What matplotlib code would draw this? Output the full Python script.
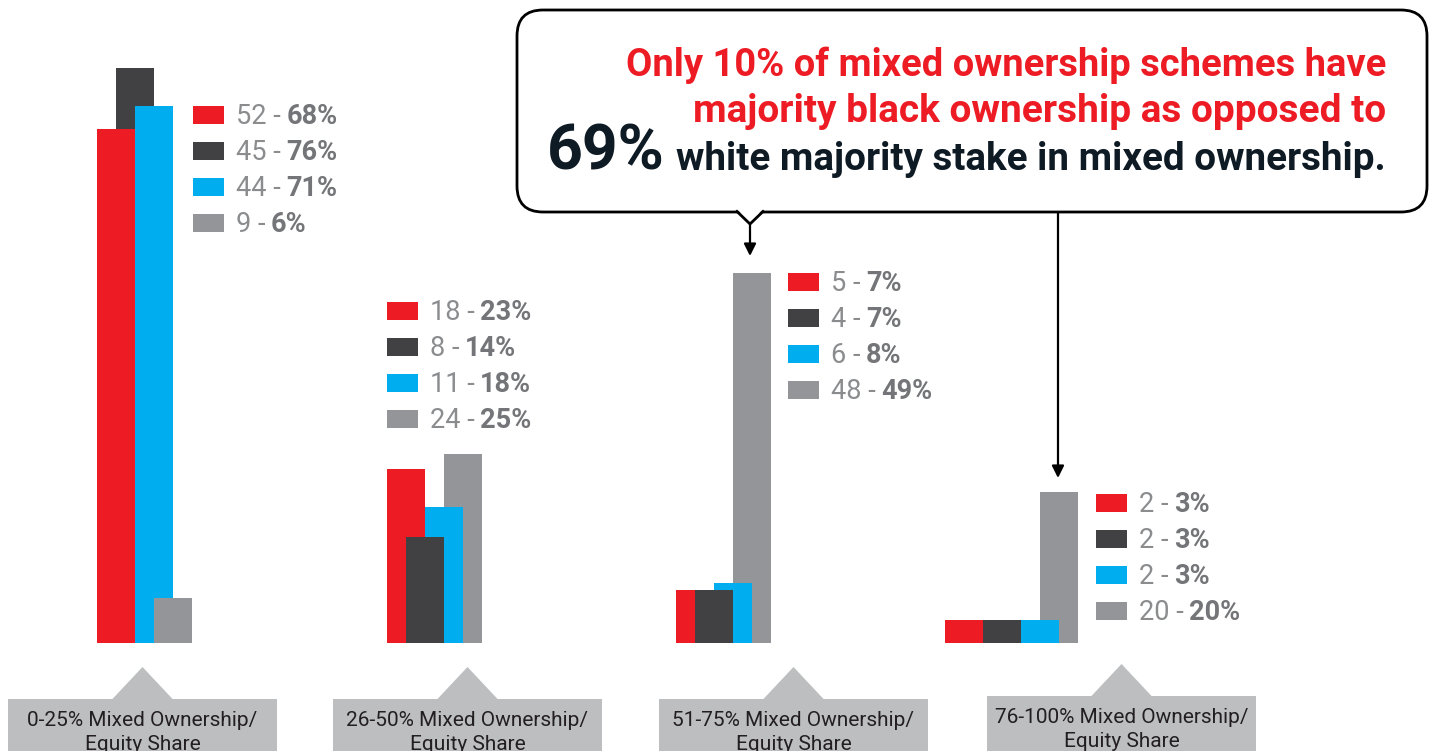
import matplotlib
matplotlib.use("Agg")
import matplotlib.pyplot as plt
from matplotlib import font_manager
from matplotlib.patches import FancyBboxPatch, Polygon, Rectangle

# ---------- DATA ----------
group_labels = ["0-25% Mixed Ownership/\nEquity Share",
                "26-50% Mixed Ownership/\nEquity Share",
                "51-75% Mixed Ownership/\nEquity Share",
                "76-100% Mixed Ownership/\nEquity Share"]
# per group: red, dark grey, blue, light grey
pct_0_25   = [68, 76, 71, 6]
pct_26_50  = [23, 14, 18, 25]
pct_51_75  = [7, 7, 8, 49]
pct_76_100 = [3, 3, 3, 20]
cnt_0_25   = [52, 45, 44, 9]
cnt_26_50  = [18, 8, 11, 24]
cnt_51_75  = [5, 4, 6, 48]
cnt_76_100 = [2, 2, 2, 20]
callout_red = ["Only 10% of mixed ownership schemes have",
               "majority black ownership as opposed to"]
callout_big = "69%"
callout_dark = "white majority stake in mixed ownership."

# ---------- STYLE / LAYOUT (pixels) ----------
W, H = 1432, 751
COLORS = ["#ED1C24", "#414042", "#00AEEF", "#939598"]
BAR_W = 38
BASE_Y = 643
PX_PER_PCT = 7.56
GROUP_X = [97, 387, 676, 945]
OFFSETS = [[0, .5, 1, 1.5], [0, .5, 1, 1.5], [0, .5, 1, 1.5], [0, 1, 2, 2.5]]
LEG_POS = [(193, 115), (387, 311), (788, 282), (1096, 503)]
LEG_STEP = 36
BOX_X = [8, 333, 659, 987]
BOX_TOP = [699, 699, 699, 696]
BOX_W = 269
BOX_COL = "#BCBEC0"
TXT_GREY = "#8a8c8e"
TXT_GREY_B = "#747578"

avail = {f.name for f in font_manager.fontManager.ttflist}
NARROW = "Liberation Sans Narrow" if "Liberation Sans Narrow" in avail else "Roboto"
plt.rcParams["font.family"] = ["Roboto", "DejaVu Sans"]

pcts = [pct_0_25, pct_26_50, pct_51_75, pct_76_100]
cnts = [cnt_0_25, cnt_26_50, cnt_51_75, cnt_76_100]

fig = plt.figure(figsize=(W / 100, H / 100), dpi=100)

# bar axes: y in percent, baseline at BASE_Y px
ymax = 80
ax = fig.add_axes([0, (H - BASE_Y) / H, 1, ymax * PX_PER_PCT / H])
ax.set_xlim(0, W)
ax.set_ylim(0, ymax)
ax.set_axis_off()
for g, vals in enumerate(pcts):
    for i, v in enumerate(vals):
        x = GROUP_X[g] + OFFSETS[g][i] * BAR_W
        # shorter bars sit in front
        ax.bar(x, v, width=BAR_W, align="edge", color=COLORS[i], zorder=100 - v)

# overlay in pixel coords
ov = fig.add_axes([0, 0, 1, 1])
ov.set_xlim(0, W)
ov.set_ylim(H, 0)
ov.set_axis_off()
ov.patch.set_alpha(0)

# legends
for g in range(4):
    lx, ly = LEG_POS[g]
    for i in range(4):
        y = ly + i * LEG_STEP
        ov.add_patch(Rectangle((lx, y - 9), 31, 18, color=COLORS[i], lw=0))
        t1 = ov.text(lx + 43, y + 9, f"{cnts[g][i]} -", fontsize=19.5,
                     color=TXT_GREY, ha="left", va="baseline")
        ov.annotate(f"{pcts[g][i]}%", xy=(1, 0), xycoords=t1, xytext=(4, 0),
                    textcoords="offset points", fontsize=19.5, fontweight="bold",
                    color=TXT_GREY_B, ha="left", va="bottom")

# bottom category boxes
for g in range(4):
    bx, bt = BOX_X[g], BOX_TOP[g]
    cx = bx + BOX_W / 2
    ov.add_patch(Rectangle((bx, bt), BOX_W, H - bt + 5, color=BOX_COL, lw=0))
    ov.add_patch(Polygon([(cx - 31, bt + 1), (cx, bt - 32), (cx + 31, bt + 1)],
                         closed=True, color=BOX_COL, lw=0))
    ov.text(cx, bt + 12, group_labels[g], fontsize=15, color="#231F20",
            ha="center", va="top", linespacing=1.32, multialignment="center")

# callout
ov.add_patch(FancyBboxPatch((517, 10), 910, 202,
                            boxstyle="round,pad=0,rounding_size=26",
                            fc="white", ec="black", lw=2, zorder=3))
ov.add_patch(Polygon([(737, 209), (763, 209), (750, 224)], closed=True,
                     fc="white", ec="none", zorder=4))
ov.plot([737, 750, 763], [211.5, 224, 211.5], color="black", lw=2, zorder=5)
ov.annotate("", xy=(750, 256), xytext=(750, 223),
            arrowprops=dict(arrowstyle="-|>", color="black", lw=1.6,
                            mutation_scale=18, shrinkA=0, shrinkB=0), zorder=5)
ov.annotate("", xy=(1058, 478), xytext=(1058, 212),
            arrowprops=dict(arrowstyle="-|>", color="black", lw=1.6,
                            mutation_scale=18, shrinkA=0, shrinkB=0), zorder=5)

RIGHT = 1386
lines = [
    ov.text(RIGHT, 76, callout_red[0], family=[NARROW, "Roboto"], fontweight="bold",
            fontsize=30, color="#ED1C24", ha="right", va="baseline", zorder=6),
    ov.text(RIGHT, 122, callout_red[1], family=[NARROW, "Roboto"], fontweight="bold",
            fontsize=30, color="#ED1C24", ha="right", va="baseline", zorder=6),
    ov.text(RIGHT, 170, callout_dark, family=[NARROW, "Roboto"], fontweight="bold",
            fontsize=28, color="#0E1A24", ha="right", va="baseline", zorder=6),
]
ov.text(547, 170, callout_big, fontsize=45, fontweight="bold", color="#0E1A24",
        ha="left", va="baseline", zorder=6)

# fit callout lines to the widths in the reference
targets = [760, 693, 710]
fig.canvas.draw()
r = fig.canvas.get_renderer()
for t, w in zip(lines, targets):
    cur = t.get_window_extent(r).width
    t.set_fontsize(t.get_fontsize() * w / cur)

fig.savefig("out.png", dpi=100)
